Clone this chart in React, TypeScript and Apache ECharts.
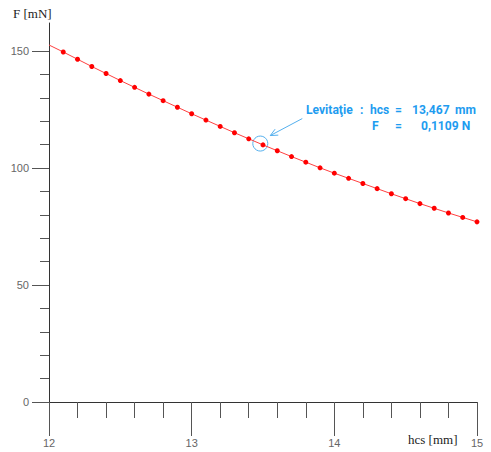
import React, { useEffect, useRef } from "react";
import * as echarts from "echarts";

// hcs [mm]
const hcs = [
  12.0, 12.1, 12.2, 12.3, 12.4, 12.5, 12.6, 12.7, 12.8, 12.9, 13.0, 13.1, 13.2, 13.3, 13.4, 13.5,
  13.6, 13.7, 13.8, 13.9, 14.0, 14.1, 14.2, 14.3, 14.4, 14.5, 14.6, 14.7, 14.8, 14.9, 15.0,
];
// F [mN]
const force = [
  152.6, 149.6, 146.5, 143.4, 140.4, 137.4, 134.5, 131.6, 128.8, 126.0, 123.2, 120.5, 117.8, 115.1,
  112.5, 109.9, 107.4, 104.9, 102.5, 100.1, 97.8, 95.6, 93.4, 91.2, 89.0, 86.9, 84.8, 82.8, 80.8,
  78.9, 77.0,
];
const yLabelValues = [0, 50, 100, 150];
const yMinorTicks = [10, 20, 30, 40, 60, 70, 80, 90, 110, 120, 130, 140];
const levitation = { hcs: 13.467, force: 110.9 };
const xTitle = "hcs [mm]";
const yTitle = "F [mN]";

export default function App() {
  const ref = useRef<HTMLDivElement>(null);
  useEffect(() => {
    if (!ref.current) return;
    const chart = echarts.init(ref.current, null, { renderer: "svg" });
    const axisColor = "#333";
    const tickColor = "#555";
    const labelStyle = { color: "#666", fontSize: 11, fontFamily: "Liberation Sans, Arial, sans-serif" };
    chart.setOption({
      animation: false,
      backgroundColor: "#fff",
      grid: { left: 49, top: 23, right: 14, bottom: 50 },
      xAxis: {
        type: "value",
        min: 12,
        max: 15,
        interval: 1,
        axisLine: { show: true, onZero: false, lineStyle: { color: axisColor, width: 1 } },
        axisTick: { show: true, length: 34, lineStyle: { color: tickColor } },
        minorTick: { show: true, splitNumber: 5, length: 16, lineStyle: { color: tickColor } },
        splitLine: { show: false },
        minorSplitLine: { show: false },
        axisLabel: { ...labelStyle, margin: 35 },
      },
      yAxis: [
        {
          type: "value",
          min: 0,
          max: 162,
          axisLine: { show: true, onZero: false, lineStyle: { color: axisColor, width: 1 } },
          axisTick: { show: true, length: 17, customValues: yLabelValues, lineStyle: { color: tickColor } },
          splitLine: { show: false },
          axisLabel: { ...labelStyle, margin: 20, customValues: yLabelValues },
        },
        {
          type: "value",
          min: 0,
          max: 162,
          position: "left",
          axisLine: { show: false },
          axisTick: { show: true, length: 9, customValues: yMinorTicks, lineStyle: { color: tickColor } },
          axisLabel: { show: false },
          splitLine: { show: false },
        },
      ],
      series: [
        {
          type: "line",
          data: hcs.map((x, i) =>
            i === 0 ? { value: [x, force[i]], symbol: "none" } : { value: [x, force[i]] }
          ),
          symbol: "circle",
          symbolSize: 5,
          showSymbol: true,
          itemStyle: { color: "#ff0000" },
          lineStyle: { color: "#ff4040", width: 1 },
        },
      ],
    });

    const p = chart.convertToPixel({ gridIndex: 0 }, [levitation.hcs, levitation.force]) as number[];
    const cx = p[0] + 2;
    const cy = p[1] + 1;
    const ax0 = cx + 42, ay0 = cy - 25;
    const ax1 = cx + 10, ay1 = cy - 8;
    const ang = Math.atan2(ay0 - ay1, ax0 - ax1);
    const wl = 8, wa = (25 * Math.PI) / 180;
    const blue = "#1e9cf0";
    const light = "#55b0ee";
    const annFont = {
      fontSize: 13,
      fontWeight: "bold",
      fontFamily: "Liberation Sans Narrow, Arial Narrow, Roboto, sans-serif",
      fill: blue,
    };
    const tok = (text: string, x: number, y: number) => ({
      type: "text",
      x,
      y,
      scaleX: 0.93,
      style: { ...annFont, text, verticalAlign: "middle" },
    });
    chart.setOption({
      graphic: [
        {
          type: "text",
          left: 13,
          top: 7,
          style: { text: yTitle, fontSize: 13, fontFamily: "Liberation Serif, Times New Roman, serif", fill: "#222" },
        },
        {
          type: "text",
          left: 408,
          top: 433,
          style: { text: xTitle, fontSize: 13, fontFamily: "Liberation Serif, Times New Roman, serif", fill: "#222" },
        },
        {
          type: "circle",
          shape: { cx, cy, r: 7.5 },
          style: { fill: "none", stroke: light, lineWidth: 1 },
        },
        {
          type: "line",
          shape: { x1: ax0, y1: ay0, x2: ax1, y2: ay1 },
          style: { stroke: light, lineWidth: 1 },
        },
        {
          type: "polyline",
          shape: {
            points: [
              [ax1 + wl * Math.cos(ang + wa), ay1 + wl * Math.sin(ang + wa)],
              [ax1, ay1],
              [ax1 + wl * Math.cos(ang - wa), ay1 + wl * Math.sin(ang - wa)],
            ],
          },
          style: { stroke: light, lineWidth: 1, fill: "none" },
        },
        tok("Levitaţie", 306, 109),
        tok(":", 360, 109),
        tok("hcs", 370, 109),
        tok("=", 395, 109),
        tok("13,467", 412, 109),
        tok("mm", 455, 109),
        tok("F", 372, 125),
        tok("=", 395, 125),
        tok("0,1109 N", 421, 125),
      ],
    });
    return () => chart.dispose();
  }, []);
  return (
    <div
      ref={ref}
      style={{ position: "absolute", left: 0, top: 0, width: 491, height: 452 }}
    />
  );
}
